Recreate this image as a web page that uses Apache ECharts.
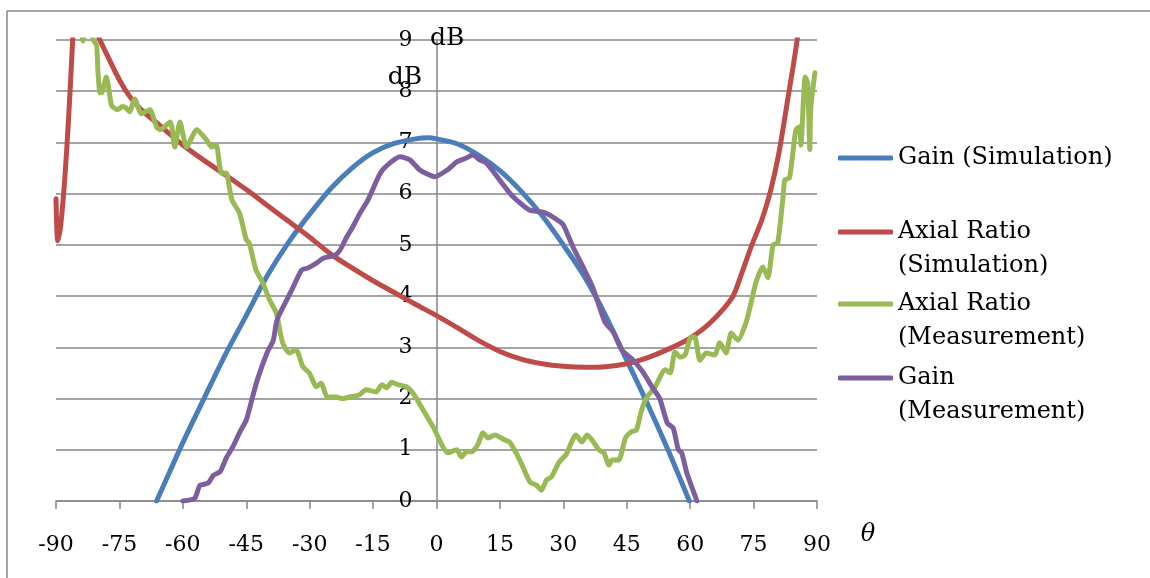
<!DOCTYPE html>
<html>
<head>
<meta charset="utf-8">
<script src="https://cdn.jsdelivr.net/npm/echarts@6/dist/echarts.min.js"></script>
<style>
html,body{margin:0;padding:0;background:#fff;}
#chart{width:1150px;height:578px;}
</style>
</head>
<body>
<div id="chart"></div>
<script>
// ---- data ----
const xTicks = [-90, -75, -60, -45, -30, -15, 0, 15, 30, 45, 60, 75, 90];
const yTicks = [0, 1, 2, 3, 4, 5, 6, 7, 8, 9];
const seriesNames = ['Gain (Simulation)', 'Axial Ratio (Simulation)', 'Axial Ratio (Measurement)', 'Gain (Measurement)'];

const gainSim = [[-66.2,0],[-65,0.22],[-60,1.14],[-55,2.0],[-50,2.85],[-45,3.62],[-40,4.4],[-35,5.05],[-30,5.6],[-25,6.1],[-20,6.5],[-15,6.8],[-10,6.98],[-5,7.07],[-2,7.09],[0,7.07],[5,6.97],[10,6.75],[15,6.45],[20,6.05],[25,5.57],[30,5.0],[35,4.38],[40,3.62],[45,2.75],[50,1.88],[55,0.95],[59.8,0]];

const arSim = [[-90,5.9],[-89.6,5.08],[-89,5.3],[-88,6.2],[-87,7.5],[-86,9.1],[-85,11],[-84,12.5],[-83,12],[-82,10.3],[-81,9.45],[-80,9.08],[-78,8.72],[-75,8.22],[-72.5,7.89],[-70,7.65],[-66,7.37],[-60,6.95],[-55,6.65],[-50,6.37],[-45,6.08],[-40,5.77],[-35,5.46],[-30,5.15],[-25,4.82],[-20,4.55],[-15,4.3],[-10,4.07],[-5,3.84],[0,3.62],[5,3.38],[10,3.13],[15,2.92],[20,2.77],[25,2.68],[30,2.63],[35,2.61],[40,2.62],[45,2.68],[50,2.8],[55,2.97],[60,3.18],[65,3.5],[70,3.98],[72,4.4],[74.5,4.98],[77,5.5],[79,6.05],[81,6.8],[83,7.8],[85.3,9.0],[87,10.3],[90,13]];

const arMeas = [[-90,11.5],[-86,10],[-84.2,9.3],[-83.6,8.98],[-82.8,9.25],[-81.6,9.2],[-81.2,9.0],[-80.4,8.9],[-80.1,8.42],[-79.6,7.97],[-79.2,7.97],[-78.1,8.28],[-76.9,7.73],[-76.2,7.67],[-75.5,7.64],[-74.3,7.7],[-73.4,7.67],[-72.6,7.6],[-71.4,7.85],[-69.8,7.56],[-67.8,7.64],[-66.2,7.3],[-65.4,7.25],[-63,7.4],[-61.9,6.91],[-60.7,7.4],[-59.1,6.91],[-56.7,7.25],[-54.4,7.05],[-53.2,6.91],[-52.1,6.95],[-50.9,6.4],[-49.7,6.4],[-49,6.13],[-48.4,5.88],[-46.6,5.62],[-45,5.1],[-44.3,5.04],[-42.7,4.51],[-41.1,4.26],[-39.5,3.93],[-37.9,3.67],[-36.4,3.09],[-34.8,2.89],[-33.2,2.95],[-31.6,2.62],[-30.1,2.5],[-28.4,2.23],[-27.3,2.3],[-25.8,2.03],[-23.7,2.03],[-22.3,2.0],[-20.6,2.03],[-18.3,2.07],[-16.7,2.17],[-14.3,2.13],[-12.9,2.27],[-11.8,2.21],[-10.6,2.32],[-9.1,2.27],[-7.1,2.23],[-5.5,2.1],[-3.9,1.88],[-0.8,1.45],[2.7,0.94],[4.8,1.0],[5.9,0.86],[7.1,0.96],[8.3,0.96],[9.7,1.09],[11,1.33],[12.2,1.23],[13.8,1.29],[16.2,1.19],[17.3,1.15],[19.7,0.8],[22.1,0.37],[23.6,0.31],[24.8,0.21],[26,0.41],[27.2,0.47],[29,0.76],[30.6,0.9],[33,1.29],[34.4,1.15],[35.6,1.29],[36.8,1.19],[38.4,1.0],[39.6,0.94],[40.8,0.7],[41.5,0.8],[43.1,0.8],[44.7,1.23],[46.1,1.35],[47.3,1.39],[48.4,1.74],[49.6,2.0],[51.7,2.23],[54.1,2.56],[55.3,2.5],[56.4,2.91],[57.6,2.81],[58.8,2.85],[60.2,3.2],[61.1,3.2],[62.3,2.75],[63.8,2.89],[65.8,2.85],[67,3.09],[68.5,2.89],[69.7,3.28],[71.3,3.14],[73.2,3.48],[74.4,3.87],[75.6,4.28],[77.2,4.57],[78.4,4.36],[79.6,5.0],[80.7,5.04],[81.9,5.88],[82.4,6.27],[83.5,6.31],[85,7.25],[85.9,7.3],[86.2,6.95],[87.2,8.28],[87.8,8.16],[88.3,6.86],[88.5,7.64],[89.5,8.36]];

const gainMeas = [[-60,0],[-57.2,0.05],[-56,0.3],[-54,0.35],[-52.8,0.5],[-51.2,0.57],[-49.6,0.86],[-48.2,1.05],[-46.5,1.35],[-45,1.58],[-43.7,1.97],[-42.4,2.36],[-40.1,2.89],[-38.6,3.14],[-37.7,3.54],[-35.4,3.93],[-34,4.16],[-31.9,4.51],[-30.4,4.55],[-28.3,4.65],[-26.8,4.74],[-24,4.8],[-22.8,4.9],[-21.2,5.16],[-19.8,5.35],[-18.1,5.62],[-16.2,5.88],[-13.3,6.4],[-11,6.6],[-8.6,6.72],[-6.3,6.66],[-3.9,6.46],[-0.4,6.33],[2.5,6.46],[4.8,6.62],[7.2,6.7],[8.6,6.76],[10.2,6.66],[11.8,6.6],[14.9,6.27],[18,5.95],[22,5.68],[25.3,5.64],[26.8,5.58],[29.2,5.45],[30,5.39],[32.3,4.96],[35,4.51],[37,4.16],[39.8,3.5],[41.8,3.3],[43.8,2.95],[46.5,2.75],[48.8,2.52],[51.2,2.2],[52.8,2.0],[54.6,1.52],[56,1.42],[57.2,1.0],[58,0.94],[59.2,0.55],[61.6,0]];

const colors = ['#4A7EBB', '#BE4B48', '#98B954', '#7D5FA0'];

// ---- chart ----
const FONT = '"DejaVu Serif", "Liberation Serif", serif';
const GRID = {left: 56, right: 333, top: 40, bottom: 77};
const chartW = 1150;
const plotW = chartW - GRID.left - GRID.right;
const chart = echarts.init(document.getElementById('chart'), null, {renderer: 'canvas'});

function legendFor(i, top) {
  return {
    data: [seriesNames[i]],
    orient: 'vertical',
    left: 838,
    top: top,
    padding: 0,
    itemGap: 0,
    itemWidth: 55,
    itemHeight: 5,
    icon: 'roundRect',
    selectedMode: false,
    formatter: function (name) {
      const idx = name.indexOf(' (');
      if (name.indexOf('Simulation') >= 0 && name.indexOf('Gain') === 0) return name;
      return ' \n' + name.slice(0, idx) + '\n' + name.slice(idx + 1);
    },
    textStyle: {fontFamily: FONT, fontSize: 24, color: '#000', lineHeight: 34}
  };
}

const yLabelSet = {};
yTicks.forEach(v => yLabelSet[v] = true);
const xLabelSet = {};
xTicks.forEach(v => xLabelSet[v] = true);
const xMin = xTicks[0], xMax = xTicks[xTicks.length - 1];
// y axis sits at x = 0 (shift from left edge of the plot)
const yAxisShift = plotW * (0 - xMin) / (xMax - xMin);
const LW = 5;

const option = {
  animation: false,
  backgroundColor: '#fff',
  color: colors,
  grid: {left: GRID.left, right: GRID.right, top: GRID.top, bottom: GRID.bottom, containLabel: false},
  legend: [legendFor(0, 141), legendFor(1, 181), legendFor(2, 253), legendFor(3, 327)],
  xAxis: {
    type: 'value',
    min: xMin, max: xMax, interval: 15,
    axisLine: {show: true, onZero: false, lineStyle: {color: '#868686', width: 1.5}},
    axisTick: {show: true, length: 8, lineStyle: {color: '#868686', width: 1.5}},
    axisLabel: {margin: 33, fontFamily: FONT, fontSize: 22, color: '#000',
      formatter: v => xLabelSet[v] ? String(v) : ''},
    splitLine: {show: false}
  },
  yAxis: {
    type: 'value',
    position: 'left',
    offset: -yAxisShift,
    min: yTicks[0], max: yTicks[yTicks.length - 1], interval: 1,
    axisLine: {show: true, onZero: false, lineStyle: {color: '#868686', width: 1.5}},
    axisTick: {show: false},
    axisLabel: {margin: 24, fontFamily: FONT, fontSize: 22, color: '#000',
      formatter: v => yLabelSet[v] ? String(v) : ''},
    splitLine: {show: true, lineStyle: {color: '#868686', width: 1.5}}
  },
  graphic: [
    {type: 'line', z: -10, silent: true, shape: {x1: 7, y1: 11, x2: 1150, y2: 11},
      style: {stroke: '#868686', lineWidth: 1.5}},
    {type: 'line', z: -10, silent: true, shape: {x1: 7, y1: 11, x2: 7, y2: 578},
      style: {stroke: '#868686', lineWidth: 1.5}},
    {type: 'text', z: 10, x: 430, y: 38, style: {text: 'dB', font: '25px ' + FONT, fill: '#000', align: 'left', verticalAlign: 'middle'}},
    {type: 'text', z: 10, x: 405, y: 77, style: {text: 'dB', font: '25px ' + FONT, fill: '#000', align: 'center', verticalAlign: 'middle'}},
    {type: 'text', z: 10, x: 868, y: 535, style: {text: 'θ', font: 'italic 24px ' + FONT, fill: '#000', align: 'center', verticalAlign: 'middle'}}
  ],
  series: [
    {name: seriesNames[0], type: 'line', data: gainSim, smooth: 0.3, symbol: 'none', clip: true,
      lineStyle: {width: LW, color: colors[0], cap: 'round', join: 'round'}, itemStyle: {color: colors[0]}},
    {name: seriesNames[1], type: 'line', data: arSim, smooth: 0.25, symbol: 'none', clip: true,
      lineStyle: {width: LW, color: colors[1], cap: 'round', join: 'round'}, itemStyle: {color: colors[1]}},
    {name: seriesNames[2], type: 'line', data: arMeas, smooth: 0.2, symbol: 'none', clip: true,
      lineStyle: {width: LW, color: colors[2], cap: 'round', join: 'round'}, itemStyle: {color: colors[2]}},
    {name: seriesNames[3], type: 'line', data: gainMeas, smooth: 0.2, symbol: 'none', clip: true,
      lineStyle: {width: LW, color: colors[3], cap: 'round', join: 'round'}, itemStyle: {color: colors[3]}}
  ]
};
chart.setOption(option);
</script>
</body>
</html>
